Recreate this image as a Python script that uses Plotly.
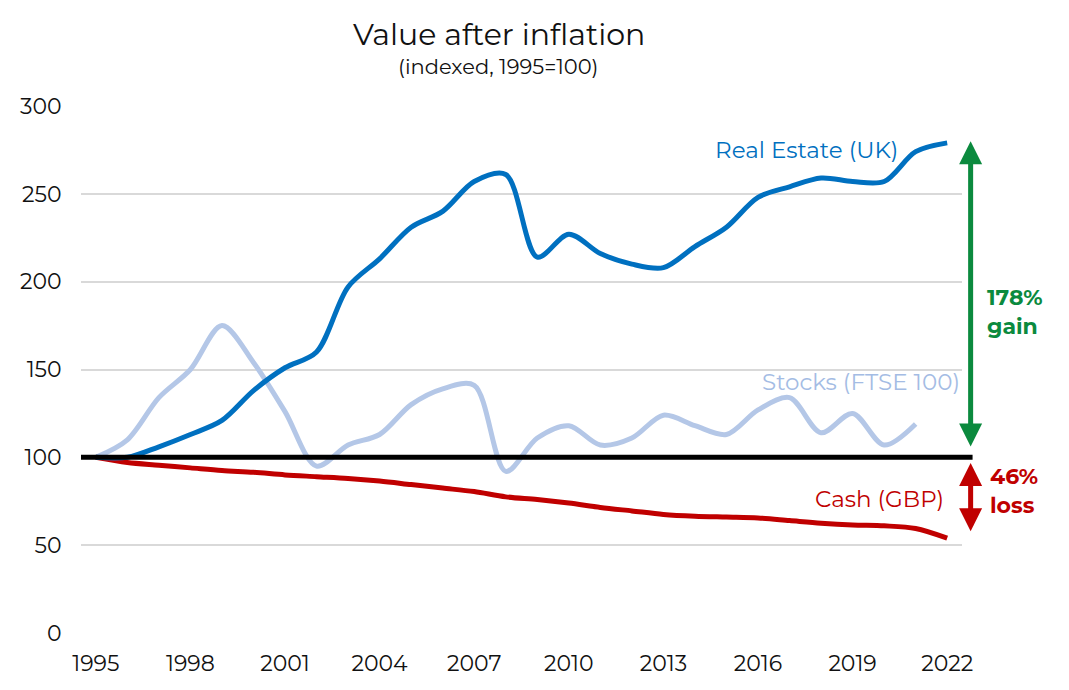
import plotly.graph_objects as go

years = list(range(1995, 2023))
real_estate = [100, 100, 106, 113, 121, 138, 151, 160, 197, 213, 231, 240, 257, 261, 214, 227,
               216, 210, 208, 220, 231, 248, 254, 259, 257, 257, 274, 279]
stock_years = list(range(1995, 2022))
stocks = [100, 110, 134, 150, 175, 154, 126, 95, 107, 113, 130, 139, 141, 92, 111, 118,
          107, 111, 124, 118, 113, 127, 134, 114, 125, 107, 119]
cash = [100, 97, 95.5, 94, 92.5, 91.5, 90, 89, 88, 86.5, 84.5, 82.5, 80.5, 77.5, 76, 74,
        71.5, 69.5, 67.5, 66.5, 66, 65.5, 64, 62.5, 61.5, 61, 59.5, 54]

y_ticks = [0, 50, 100, 150, 200, 250, 300]
x_ticks = [1995, 1998, 2001, 2004, 2007, 2010, 2013, 2016, 2019, 2022]

FONT = "Montserrat, 'Open Sans', sans-serif"
C_RE = "#0070C0"
C_ST = "#B4C7E7"
C_ST_TXT = "#A4BCE4"
C_CA = "#C00000"
C_GR = "#0B8A3E"

fig = go.Figure()
fig.add_trace(go.Scatter(x=stock_years, y=stocks, mode="lines",
                         line=dict(color=C_ST, width=5, shape="spline", smoothing=0.9)))
fig.add_trace(go.Scatter(x=years, y=cash, mode="lines",
                         line=dict(color=C_CA, width=5, shape="spline", smoothing=0.9)))
fig.add_trace(go.Scatter(x=years, y=real_estate, mode="lines",
                         line=dict(color=C_RE, width=5, shape="spline", smoothing=0.9)))

fig.add_shape(type="line", xref="paper", yref="y", x0=0, x1=1.012, y0=100, y1=100,
              line=dict(color="black", width=5), layer="above")

anns = [
    dict(text="Value after inflation", xref="paper", yref="paper", x=0.474, y=1.0,
         xanchor="center", yanchor="middle", yshift=72, showarrow=False,
         font=dict(size=30, color="#111")),
    dict(text="(indexed, 1995=100)", xref="paper", yref="paper", x=0.474, y=1.0,
         xanchor="center", yanchor="middle", yshift=40, showarrow=False,
         font=dict(size=21, color="#111")),
    dict(text="Real Estate (UK)", x=2020.5, y=275, xanchor="right", yanchor="middle",
         showarrow=False, font=dict(size=23, color=C_RE)),
    dict(text="Stocks (FTSE 100)", xref="paper", x=1.0, y=143, xanchor="right",
         yanchor="middle", showarrow=False, font=dict(size=23, color=C_ST_TXT)),
    dict(text="Cash (GBP)", x=2021.95, y=76, xanchor="right", yanchor="middle",
         showarrow=False, font=dict(size=23, color=C_CA)),
    dict(text="<b>178%<br>gain</b>", xref="paper", x=1.026, y=183, xanchor="left",
         yanchor="middle", showarrow=False, align="left", font=dict(size=22, color=C_GR)),
    dict(text="<b>46%<br>loss</b>", xref="paper", x=1.029, y=81, xanchor="left",
         yanchor="middle", showarrow=False, align="left", font=dict(size=22, color=C_CA)),
    dict(text="", xref="paper", yref="y", x=1.0098, y=280, ax=0, ayref="y", ay=105.3,
         showarrow=True, arrowhead=2, arrowside="end+start", arrowwidth=5, arrowsize=0.92,
         arrowcolor=C_GR),
    dict(text="", xref="paper", yref="y", x=1.0098, y=96.8, ax=0, ayref="y", ay=57,
         showarrow=True, arrowhead=2, arrowside="end+start", arrowwidth=5, arrowsize=0.92,
         arrowcolor=C_CA),
]
fig.update_layout(annotations=anns)

fig.update_layout(
    width=1069, height=690,
    margin=dict(l=70, r=115, t=98, b=65),
    paper_bgcolor="white", plot_bgcolor="white",
    showlegend=False,
    font=dict(family=FONT, size=22, color="#111"),
    xaxis=dict(range=[1994.53, 2022.47], tickvals=x_ticks, showgrid=False, zeroline=False,
               showline=False, ticks="outside", ticklen=11, tickcolor="white",
               tickfont=dict(size=22)),
    yaxis=dict(range=[0, 300], tickvals=y_ticks, showgrid=True, gridcolor="#D9D9D9",
               gridwidth=2, zeroline=False, showline=False, ticks="outside", ticklen=14,
               tickcolor="white", tickfont=dict(size=22)),
)

fig.write_html("out.html")
